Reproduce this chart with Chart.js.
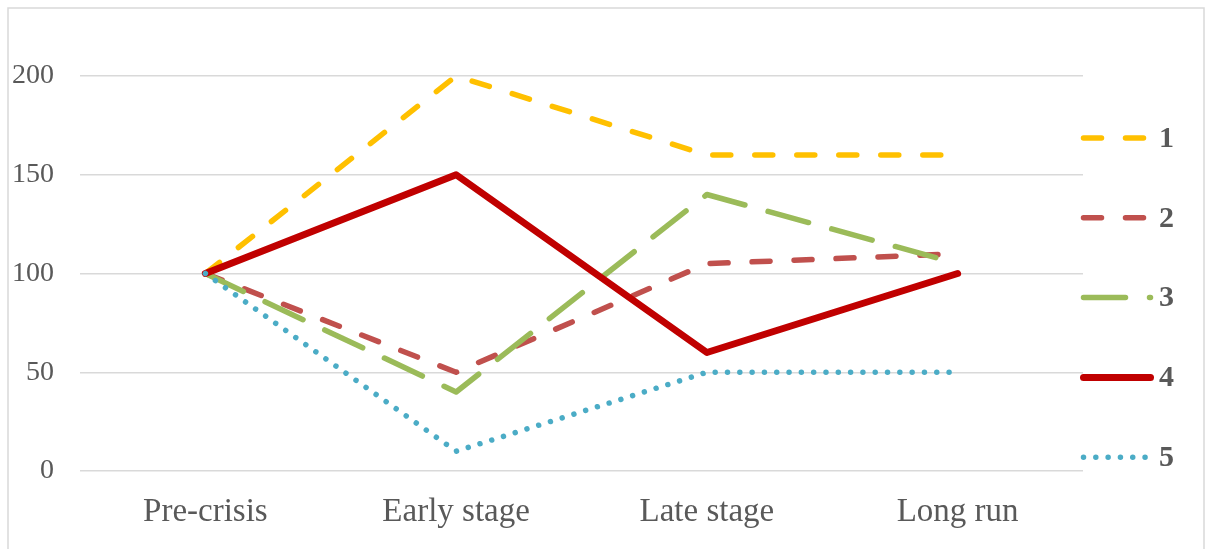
<!DOCTYPE html>
<html>
<head>
<meta charset="utf-8">
<script src="https://cdn.jsdelivr.net/npm/chart.js@4"></script>
<style>
  html, body { margin: 0; padding: 0; background: #ffffff; }
  #wrap { width: 1206px; height: 549px; position: relative; }
</style>
</head>
<body>
<div id="wrap"><canvas id="c" width="1206" height="549"></canvas></div>
<script>
// Stages on the horizontal axis
const categories = ['Pre-crisis', 'Early stage', 'Late stage', 'Long run'];
// Scenario names shown in the key
const seriesNames = ['1', '2', '3', '4', '5'];
// Index values per scenario (pre-crisis = 100)
const series1 = [100, 200, 160, 160];
const series2 = [100, 50, 105, 110];
const series3 = [100, 40, 140, 105];
const series4 = [100, 150, 60, 100];
const series5 = [100, 10, 50, 50];
// Value-axis ticks
const yTicks = [0, 50, 100, 150, 200];

const seriesValues = [series1, series2, series3, series4, series5];
const seriesStyles = [
  { color: '#FFC000', width: 5.5, dash: [18, 24] },
  { color: '#C0504D', width: 5.5, dash: [18, 24] },
  { color: '#9BBB59', width: 5.5, dash: [42, 24] },
  { color: '#C00000', width: 7,   dash: [] },
  { color: '#4BACC6', width: 5.5, dash: [0.01, 12.3] }
];

const datasets = seriesValues.map((vals, i) => ({
  label: seriesNames[i],
  data: vals,
  borderColor: seriesStyles[i].color,
  backgroundColor: seriesStyles[i].color,
  borderWidth: seriesStyles[i].width,
  borderDash: seriesStyles[i].dash,
  borderCapStyle: 'round',
  borderJoinStyle: 'round',
  pointRadius: 0,
  pointHoverRadius: 0,
  tension: 0,
  fill: false,
  order: seriesValues.length - i   // later scenarios painted on top
}));

// Light frame around the whole figure
const framePlugin = {
  id: 'frame',
  beforeDraw(chart) {
    const ctx = chart.ctx;
    ctx.save();
    ctx.strokeStyle = '#D9D9D9';
    ctx.lineWidth = 1.5;
    ctx.strokeRect(8, 8, 1196, 600);
    ctx.restore();
  }
};

// Key on the right: a line sample in each scenario's style plus its name
const keyPlugin = {
  id: 'scenarioKey',
  afterDraw(chart) {
    const ctx = chart.ctx;
    ctx.save();
    chart.data.datasets.forEach((ds, i) => {
      const y = 138 + 79.8 * i;
      ctx.beginPath();
      ctx.strokeStyle = ds.borderColor;
      ctx.lineWidth = ds.borderWidth;
      ctx.lineCap = 'round';
      ctx.setLineDash(ds.borderDash);
      ctx.moveTo(1083.5, y);
      ctx.lineTo(1150.5, y);
      ctx.stroke();
      ctx.setLineDash([]);
      ctx.fillStyle = '#595959';
      ctx.font = 'bold 30px "Liberation Serif", serif';
      ctx.textAlign = 'left';
      ctx.textBaseline = 'middle';
      ctx.fillText(ds.label, 1159, y + 1);
    });
    ctx.restore();
  }
};

new Chart(document.getElementById('c'), {
  type: 'line',
  data: { labels: categories, datasets },
  plugins: [framePlugin, keyPlugin],
  options: {
    responsive: false,
    animation: false,
    devicePixelRatio: 1,
    layout: { padding: { top: 76, right: 123, bottom: 0, left: 0 } },
    plugins: {
      legend: { display: false },
      tooltip: { enabled: false },
      title: { display: false }
    },
    scales: {
      x: {
        type: 'category',
        offset: true,
        grid: { display: false, drawTicks: false },
        border: { display: false },
        ticks: {
          color: '#595959',
          font: { family: '"Liberation Serif", serif', size: 33 },
          padding: 22,
          maxRotation: 0,
          autoSkip: false
        },
        afterFit(scale) { scale.height = 78; }
      },
      y: {
        min: 0,
        max: 200,
        afterBuildTicks(scale) { scale.ticks = yTicks.map(v => ({ value: v })); },
        grid: { color: '#D9D9D9', lineWidth: 1.5, drawTicks: false },
        border: { display: false },
        ticks: {
          color: '#595959',
          font: { family: '"Liberation Serif", serif', size: 28 },
          padding: 26
        },
        afterFit(scale) { scale.width = 80; }
      }
    }
  }
});
</script>
</body>
</html>
